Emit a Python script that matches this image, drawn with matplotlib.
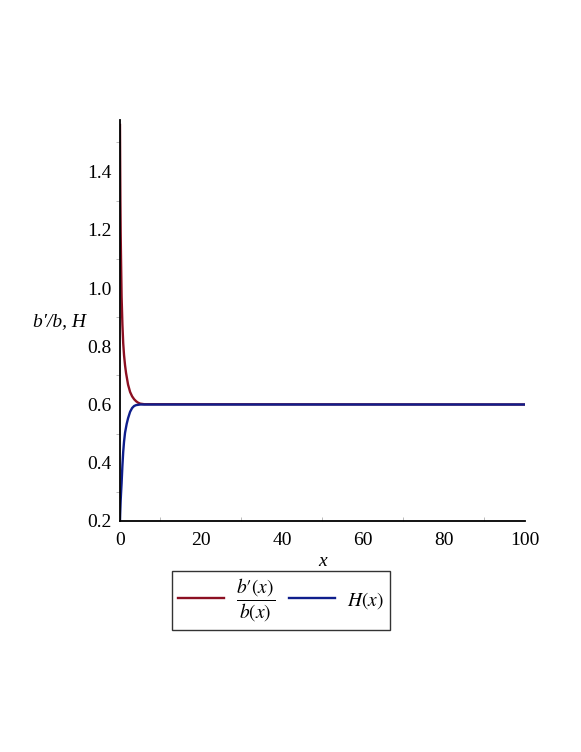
import matplotlib.pyplot as plt
from matplotlib.ticker import MultipleLocator

# b'(x)/b(x), values
x_ratio = [0, 0.05, 0.1, 0.17, 0.25, 0.4, 0.6, 0.8, 1.0, 1.25, 1.5, 2.0, 2.5,
           3.0, 3.5, 4.0, 4.5, 5.0, 6.0, 100]
y_ratio = [1.56, 1.42, 1.30, 1.19, 1.11, 0.97, 0.875, 0.81, 0.77, 0.735, 0.708,
           0.668, 0.643, 0.628, 0.618, 0.611, 0.606, 0.603, 0.601, 0.6]

# H(x)
x_h = [0, 0.05, 0.1, 0.17, 0.25, 0.4, 0.6, 0.8, 1.0, 1.25, 1.65, 2.0, 2.5,
       3.0, 3.5, 4.0, 5.0, 6.0, 100]
y_h = [0.2, 0.225, 0.245, 0.27, 0.292, 0.33, 0.39, 0.438, 0.472, 0.503, 0.533,
       0.553, 0.575, 0.588, 0.595, 0.598, 0.6, 0.6, 0.6]

red = '#8C1022'
blue = '#0F1E8C'

plt.rcParams['font.family'] = 'Liberation Serif'
plt.rcParams['mathtext.fontset'] = 'stix'

fig = plt.figure(figsize=(5.81, 7.52), dpi=100)
ax = fig.add_axes([0.2065, 0.3072, 0.697, 0.5332])

l1, = ax.plot(x_ratio, y_ratio, color=red, lw=1.7)
l2, = ax.plot(x_h, y_h, color=blue, lw=1.7)

ax.set_xlim(0, 100)
ax.set_ylim(0.2, 1.577)
ax.spines['top'].set_visible(False)
ax.spines['right'].set_visible(False)
ax.spines['left'].set_linewidth(1.3)
ax.spines['bottom'].set_linewidth(1.3)

ax.xaxis.set_major_locator(MultipleLocator(20))
ax.xaxis.set_minor_locator(MultipleLocator(10))
ax.yaxis.set_major_locator(MultipleLocator(0.2))
ax.yaxis.set_minor_locator(MultipleLocator(0.1))
ax.yaxis.set_major_formatter(plt.FormatStrFormatter('%.1f'))
ax.tick_params(which='major', length=0, labelsize=14)
ax.tick_params(axis='x', which='major', pad=8)
ax.tick_params(axis='y', which='major', pad=6)
ax.tick_params(axis='x', which='minor', direction='in', length=3, color='#b0b0b0')
ax.tick_params(axis='y', which='minor', direction='out', length=3, color='#b0b0b0')

ax.set_xlabel('x', fontsize=14, style='italic', labelpad=3)
fig.text(0.103, 0.572, 'b\u2032/b, H', fontsize=14, style='italic',
         ha='center', va='center')

leg = fig.legend([l1, l2], ['$\\dfrac{b\u2032(x)}{b(x)}$', '$H(x)$'],
                 loc='center', bbox_to_anchor=(0.483, 0.2015), ncol=2,
                 fontsize=14, frameon=True, fancybox=False, handlelength=2.4,
                 handletextpad=0.6, columnspacing=0.7, borderpad=0.3)
leg.get_frame().set_edgecolor('black')
leg.get_frame().set_linewidth(1.0)

fig.savefig('out.png', dpi=100)
